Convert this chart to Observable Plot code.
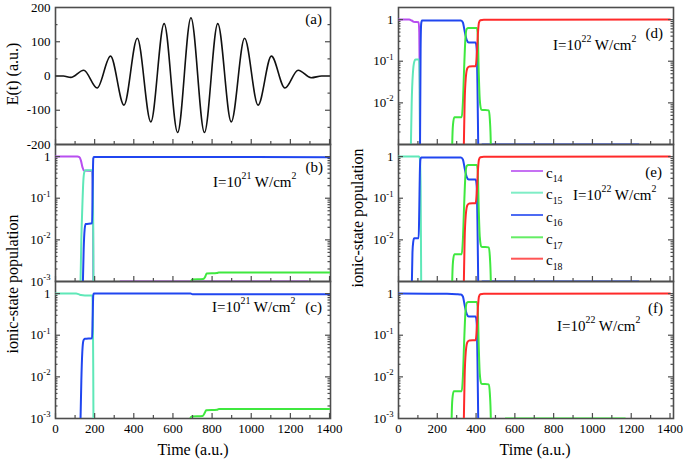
<!DOCTYPE html>
<html><head><meta charset="utf-8">
<script src="https://cdn.jsdelivr.net/npm/d3@7"></script>
<script src="https://cdn.jsdelivr.net/npm/@observablehq/plot@0.6"></script>
<style>
body{margin:0;background:#fff}
#chart{position:relative;width:685px;height:460px;overflow:hidden;background:#fff;font-family:"Liberation Serif","Times New Roman",serif}
#chart svg text{font-family:"Liberation Serif","Times New Roman",serif}
</style></head><body><div id="chart"></div>
<script>
// ---------------- DATA ----------------
// Panel (a): laser field, extrema
const eTime  = [0, 40, 78, 144, 213, 281, 350, 418, 487, 555, 624, 692, 761, 829, 898, 966, 1035, 1103, 1172, 1240, 1306, 1360, 1400];
const eField = [0, 0, -4, 17, -35, 58, -85, 110, -134, 153, -165, 170, -165, 153, -134, 110, -85, 58, -35, 17, -5, 0, 0];

// Panel (b): I=1e21, initial c14   ([time, population])
const b_c14 = [[0,1],[112,1],[122,0.97],[130,0.8],[138,0.55],[146,0.46],[186,0.45],[189,0.3],[192,0.02],[194,1e-4],[320,1e-4],[330,1e-3],[1290,1e-3],[1300,1e-4],[1400,1e-4]];
const b_c15 = [[0,1e-4],[124,1e-4],[128,1e-3],[132,0.01],[137,0.06],[142,0.25],[147,0.42],[153,0.47],[188,0.47],[191,0.2],[193,0.01],[195,1e-4],[1400,1e-4]];
const b_c16 = [[0,1e-4],[136,1e-4],[140,1e-3],[144,0.006],[149,0.018],[154,0.024],[187,0.025],[190,0.2],[193,0.9],[196,0.98],[1400,0.97]];
const b_c17 = [[0,1e-4],[660,1e-4],[692,1e-3],[698,1.12e-3],[755,1.15e-3],[765,1.3e-3],[772,1.55e-3],[825,1.6e-3],[835,1.65e-3],[1400,1.65e-3]];

// Panel (c): I=1e21, initial c15
const c_c15 = [[0,1],[105,1],[118,0.97],[130,0.92],[150,0.9],[188,0.9],[191,0.3],[193,0.01],[195,1e-4],[1400,1e-4]];
const c_c16 = [[0,1e-4],[124,1e-4],[128,1e-3],[132,0.008],[137,0.04],[143,0.075],[150,0.082],[187,0.085],[190,0.3],[193,0.92],[196,1],[690,1],[700,0.97],[1400,0.97]];
const c_c17 = [[0,1e-4],[650,1e-4],[688,1e-3],[695,1.12e-3],[752,1.15e-3],[762,1.35e-3],[770,1.58e-3],[825,1.62e-3],[835,1.7e-3],[1400,1.7e-3]];

// Panel (d): I=1e22, initial c14
const d_c14 = [[0,1],[55,1],[68,0.95],[80,0.88],[104,0.86],[107,0.5],[110,0.02],[112,1e-4],[1400,1e-4]];
const d_c15 = [[0,1e-4],[61,1e-4],[64,1e-3],[68,0.01],[74,0.05],[82,0.1],[88,0.11],[106,0.11],[109,0.03],[111,1e-3],[113,1e-4],[1400,1e-4]];
const d_c16 = [[0,1e-4],[108,1e-4],[111,1e-3],[114,0.2],[117,0.8],[121,0.95],[322,0.95],[332,0.85],[342,0.5],[352,0.32],[362,0.28],[398,0.28],[403,0.2],[407,0.03],[411,1e-3],[414,1e-4],[425,1e-4],[430,1e-3],[1240,1e-3],[1245,1e-4],[1400,1e-4]];
const d_c17 = [[0,1e-4],[274,1e-4],[277,1e-3],[281,0.003],[288,0.0045],[326,0.0045],[332,0.01],[338,0.06],[345,0.35],[352,0.6],[360,0.63],[404,0.63],[409,0.4],[414,0.05],[419,0.012],[427,0.0068],[466,0.0066],[471,0.004],[476,1e-3],[479,1e-4],[1400,1e-4]];
const d_c18 = [[0,1e-4],[333,1e-4],[337,1e-3],[341,0.01],[347,0.04],[355,0.068],[365,0.075],[398,0.076],[404,0.15],[410,0.5],[415,0.85],[422,0.96],[440,0.99],[1400,1]];

// Panel (e): I=1e22, initial c15
const e_c15 = [[0,1],[106,1],[110,0.9],[114,0.2],[117,1e-3],[119,1e-4],[1400,1e-4]];
const e_c16 = [[0,1e-4],[66,1e-4],[69,1e-3],[72,0.005],[76,0.009],[81,0.011],[104,0.011],[107,0.05],[110,0.4],[113,0.85],[117,0.95],[322,0.95],[332,0.85],[342,0.5],[352,0.32],[362,0.28],[398,0.28],[403,0.2],[407,0.03],[411,1e-3],[414,1e-4],[425,1e-4],[430,1e-3],[1240,1e-3],[1245,1e-4],[1400,1e-4]];
const e_c17 = [[0,1e-4],[274,1e-4],[277,1e-3],[281,0.003],[288,0.0045],[326,0.0045],[332,0.01],[338,0.06],[345,0.35],[352,0.6],[360,0.63],[404,0.63],[409,0.4],[414,0.05],[419,0.012],[427,0.0068],[466,0.0066],[471,0.004],[476,1e-3],[479,1e-4],[1400,1e-4]];
const e_c18 = [[0,1e-4],[333,1e-4],[337,1e-3],[341,0.01],[347,0.04],[355,0.068],[365,0.075],[398,0.076],[404,0.15],[410,0.5],[415,0.85],[422,0.96],[440,0.99],[1400,1]];

// Panel (f): I=1e22, initial c16
const f_c16 = [[0,1],[250,0.99],[300,0.97],[322,0.95],[332,0.85],[342,0.5],[352,0.32],[362,0.28],[398,0.28],[403,0.2],[407,0.03],[411,1e-3],[414,1e-4],[1400,1e-4]];
const f_c17 = [[0,1e-4],[271,1e-4],[274,1e-3],[278,0.003],[285,0.0045],[326,0.0045],[332,0.01],[338,0.06],[345,0.35],[352,0.6],[360,0.63],[404,0.63],[409,0.4],[414,0.05],[419,0.012],[427,0.0068],[466,0.0066],[471,0.004],[476,1e-3],[479,1e-4],[545,1e-4],[550,1e-3],[1170,1e-3],[1175,1e-4],[1400,1e-4]];
const f_c18 = [[0,1e-4],[333,1e-4],[337,1e-3],[341,0.01],[347,0.04],[355,0.068],[365,0.075],[398,0.076],[404,0.15],[410,0.5],[415,0.85],[422,0.96],[440,0.99],[1400,1]];

const seriesNames = ["c14","c15","c16","c17","c18"];
const seriesColors = {c14:"#b84ef0", c15:"#5fe8b8", c16:"#2046f0", c17:"#3fe83f", c18:"#ff2a2a"};
const timeTickLabels = [0,200,400,600,800,1000,1200,1400];
const timeMinorTicks = [100,300,500,700,900,1100,1300];
const fieldTicks = [200,100,0,-100,-200];
const fieldMinor = [150,50,-50,-150];
const popTicksFull = [1,0.1,0.01,0.001];
const popTicksTop = [1,0.1,0.01];
const popMinor = [];
for (const k of [-3,-2,-1]) for (let m=2;m<=9;m++) popMinor.push(m*Math.pow(10,k));
const intensityLabels = {b:"I=10^{21} W/cm^{2}", c:"I=10^{21} W/cm^{2}", d:"I=10^{22} W/cm^{2}", e:"I=10^{22} W/cm^{2}", f:"I=10^{22} W/cm^{2}"};

// ---------------- helpers ----------------
const SVGNS = "http://www.w3.org/2000/svg";
function richText(el, str, size) {
  el.textContent = "";
  const re = /([\^_])\{([^}]*)\}|([^\^_]+)/g;
  let m, shift = 0;
  while ((m = re.exec(str))) {
    const ts = document.createElementNS(SVGNS, "tspan");
    let target = 0;
    if (m[1]) {
      target = m[1] === "^" ? -0.45*size : 0.32*size;
      ts.setAttribute("font-size", (0.66*size).toFixed(1));
      ts.textContent = m[2];
    } else ts.textContent = m[3];
    ts.setAttribute("dy", (target - shift).toFixed(2));
    shift = target;
    el.appendChild(ts);
  }
}
const chart = document.getElementById("chart");
const FONT = '"Liberation Serif","Times New Roman",serif';
const FRAME = "#4d4d4d";

function panel(cfg) {
  const IW = 275, IH = 137, ML = 48, MR = 18, MT = 12, MB = cfg.xLabels ? 26 : 12;
  const isLog = cfg.yType === "log";
  const marks = [Plot.frame({stroke: FRAME, strokeWidth: 1.6})];
  for (const s of cfg.series) {
    marks.push(Plot.line(s.data, {x: d => d[0], y: d => d[1], stroke: s.color, strokeWidth: s.width || 2,
      curve: "monotone-x", clip: true}));
  }
  const tk = {stroke: FRAME, strokeWidth: 1.2};
  marks.push(Plot.ruleX(timeTickLabels, {x: d => d, insetTop: IH - 5, ...tk}));
  marks.push(Plot.ruleX(timeMinorTicks, {x: d => d, insetTop: IH - 3, ...tk}));
  marks.push(Plot.ruleY(cfg.yMajor, {y: d => d, insetRight: IW - 5, ...tk}));
  marks.push(Plot.ruleY(cfg.yMajor, {y: d => d, insetLeft: IW - 5, ...tk}));
  marks.push(Plot.ruleY(cfg.yMinor, {y: d => d, insetRight: IW - 2.5, ...tk}));
  marks.push(Plot.ruleY(cfg.yMinor, {y: d => d, insetLeft: IW - 2.5, ...tk}));
  const svg = Plot.plot({
    width: ML + IW + MR, height: MT + IH + MB,
    marginLeft: ML, marginRight: MR, marginTop: MT, marginBottom: MB,
    style: {background: "transparent", fontFamily: FONT, fontSize: "13px", color: "#000"},
    x: {domain: [0, cfg.xMax], ticks: cfg.xLabels ? timeTickLabels : [], axis: cfg.xLabels ? "bottom" : null,
        tickSize: 0, tickPadding: 5, label: null, tickFormat: d => String(d)},
    y: isLog
      ? {type: "log", domain: [1e-3, 1.95], ticks: cfg.yTicks, tickSize: 0, tickPadding: 5, label: null,
         tickFormat: d => d === 1 ? "1" : "10^{" + Math.round(Math.log10(d)) + "}"}
      : {domain: [-200, 200], ticks: cfg.yTicks, tickSize: 0, tickPadding: 5, label: null, tickFormat: d => String(d)},
    marks
  });
  svg.setAttribute("font-family", FONT);
  svg.setAttribute("font-size", "13");
  svg.style.fontFamily = FONT;
  svg.style.fontSize = "13px";
  svg.querySelectorAll("g").forEach(g => { if (g.hasAttribute("font-family")) g.setAttribute("font-family", FONT); });
  svg.querySelectorAll("text").forEach(t => {
    t.setAttribute("font-family", FONT);
    t.setAttribute("fill", "#000");
    if (t.textContent.includes("^{")) richText(t, t.textContent, 13);
  });
  svg.style.position = "absolute";
  svg.style.left = (cfg.left - ML) + "px";
  svg.style.top = (cfg.top - MT) + "px";
  svg.style.maxWidth = "none";
  svg.style.overflow = "visible";
  chart.appendChild(svg);
}

const S = (name, data) => ({data, color: seriesColors[name]});

// (a)
panel({left: 55, top: 7, xMax: 1405, yType: "linear", yTicks: fieldTicks, yMajor: fieldTicks.slice(1,4), yMinor: fieldMinor,
  series: [{data: eTime.map((t,i) => [t, eField[i]]), color: "#111", width: 1.6}]});
// (b)
panel({left: 55, top: 144, xMax: 1405, yType: "log", yTicks: popTicksFull, yMajor: [1,0.1,0.01], yMinor: popMinor,
  series: [S("c14", b_c14), S("c15", b_c15), S("c16", b_c16), S("c17", b_c17)]});
// (c)
panel({left: 55, top: 281, xMax: 1405, yType: "log", yTicks: popTicksFull, yMajor: [1,0.1,0.01], yMinor: popMinor, xLabels: true,
  series: [S("c15", c_c15), S("c16", c_c16), S("c17", c_c17)]});
// (d)
panel({left: 397.5, top: 7, xMax: 1418, yType: "log", yTicks: popTicksTop, yMajor: [1,0.1,0.01], yMinor: popMinor,
  series: [S("c14", d_c14), S("c15", d_c15), S("c16", d_c16), S("c17", d_c17), S("c18", d_c18)]});
// (e)
panel({left: 397.5, top: 144, xMax: 1418, yType: "log", yTicks: popTicksTop, yMajor: [1,0.1,0.01], yMinor: popMinor,
  series: [S("c15", e_c15), S("c16", e_c16), S("c17", e_c17), S("c18", e_c18)]});
// (f)
panel({left: 397.5, top: 281, xMax: 1418, yType: "log", yTicks: popTicksFull, yMajor: [1,0.1,0.01], yMinor: popMinor, xLabels: true,
  series: [S("c16", f_c16), S("c17", f_c17), S("c18", f_c18)]});

// ---------------- annotations overlay ----------------
const ov = d3.create("svg").attr("width", 685).attr("height", 460)
  .style("position", "absolute").style("left", "0px").style("top", "0px")
  .style("font-family", FONT).style("pointer-events", "none");
function txt(x, y, str, {size = 15, anchor = "start", rotate = 0, baseline = "central"} = {}) {
  const t = ov.append("text").attr("transform", `translate(${x},${y}) rotate(${rotate})`)
    .attr("text-anchor", anchor).attr("dominant-baseline", baseline).attr("font-size", size)
    .attr("font-family", FONT).attr("fill", "#000");
  richText(t.node(), str, size);
}
// axis titles
txt(18, 74, "E(t) (a.u.)", {size: 16, anchor: "middle", rotate: -90, baseline: "alphabetic"});
txt(18, 284, "ionic-state population", {size: 16, anchor: "middle", rotate: -90, baseline: "alphabetic"});
txt(363, 218, "ionic-state population", {size: 16, anchor: "middle", rotate: -90, baseline: "alphabetic"});
txt(193, 455, "Time (a.u.)", {size: 16, anchor: "middle", baseline: "alphabetic"});
txt(535, 455, "Time (a.u.)", {size: 16, anchor: "middle", baseline: "alphabetic"});
// panel letters
txt(322, 18.5, "(a)", {anchor: "end"});
txt(323, 166.5, "(b)", {anchor: "end"});
txt(322, 306.5, "(c)", {anchor: "end"});
txt(663, 32.5, "(d)", {anchor: "end"});
txt(662, 172, "(e)", {anchor: "end"});
txt(663, 307.5, "(f)", {anchor: "end"});
// intensities
txt(213, 182, intensityLabels.b);
txt(212, 307, intensityLabels.c);
txt(553, 45, intensityLabels.d);
txt(573, 195, intensityLabels.e);
txt(557, 326, intensityLabels.f);
// legend in (e)
const legendY = [171, 192.7, 215, 237.3, 258.7];
seriesNames.forEach((n, i) => {
  ov.append("line").attr("x1", 511).attr("x2", 543).attr("y1", legendY[i]).attr("y2", legendY[i])
    .attr("stroke", seriesColors[n]).attr("stroke-width", 2).attr("stroke-opacity", 0.8);
  txt(546, legendY[i] + 6.5, "c_{" + n.slice(1) + "}", {size: 15, baseline: "alphabetic"});
});
chart.appendChild(ov.node());
</script></body></html>
